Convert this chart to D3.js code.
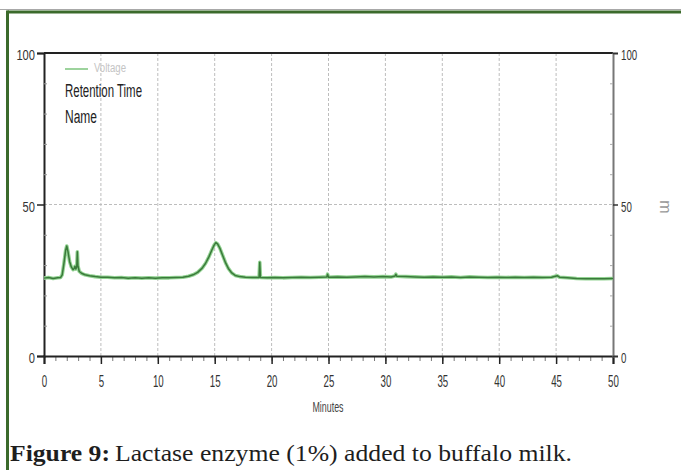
<!DOCTYPE html>
<html>
<head>
<meta charset="utf-8">
<script src="https://cdn.jsdelivr.net/npm/d3@7"></script>
<style>
  html, body { margin: 0; padding: 0; background: #fff; }
  svg { display: block; }
  .cond { font-family: "Liberation Sans Narrow", "Arial Narrow", "Liberation Sans", sans-serif; fill: #333; }
</style>
</head>
<body>
<svg id="chart" width="681" height="470"></svg>
<script>
// Retention time (minutes) and detector signal of the chromatogram trace
const minutes = [
  0, 0.4, 0.8, 1.2, 1.45, 1.6, 1.75, 1.9, 2.0, 2.1, 2.25, 2.4, 2.55, 2.65, 2.72, 2.8, 2.88, 2.93, 2.98,
  3.1, 3.3, 3.6, 4.0, 4.5, 5.0, 5.6, 6.2, 6.8, 7.4, 8.0, 8.6, 9.2, 9.8, 10.4, 11.0, 11.6, 12.2, 12.7,
  13.1, 13.5, 13.9, 14.2, 14.5, 14.75, 14.95, 15.1, 15.25, 15.45, 15.7, 15.95, 16.2, 16.5, 16.8, 17.2,
  17.7, 18.3, 18.9, 18.96, 19.02, 19.6, 20.3, 21.0, 21.8, 22.6, 23.4, 24.2, 24.85, 24.92, 25.0, 25.8,
  26.6, 27.4, 28.2, 29.0, 29.8, 30.5, 30.85, 30.92, 31.0, 31.8, 32.6, 33.4, 34.2, 35.0, 35.8, 36.6,
  37.4, 38.2, 39.0, 39.8, 40.6, 41.4, 42.2, 43.0, 43.8, 44.6, 45.1, 45.3, 46.0, 46.8, 47.6, 48.4, 49.2, 50
];
const signal = [
  25.7, 25.9, 25.6, 25.8, 25.9, 26.8, 30.5, 34.8, 36.3, 34.6, 31.2, 29.4, 28.5, 28.9, 29.6, 28.7, 29.5, 34.4, 29.8,
  27.9, 27.3, 26.8, 26.5, 26.2, 26.0, 26.0, 25.8, 25.9, 25.7, 25.8, 25.7, 25.8, 25.7, 25.8, 25.8, 25.9, 26.0, 26.3,
  26.8, 27.6, 29.0, 30.6, 32.8, 35.0, 36.6, 37.4, 37.0, 35.6, 33.2, 30.8, 28.9, 27.4, 26.6, 26.2,
  26.0, 25.9, 25.9, 30.9, 25.9, 25.8, 25.9, 25.8, 25.9, 26.0, 25.9, 26.0, 26.1, 27.0, 26.0, 26.1,
  26.0, 26.1, 26.2, 26.1, 26.2, 26.1, 26.4, 27.0, 26.3, 26.2, 26.1, 26.0, 26.1, 26.0, 26.1, 25.9,
  26.1, 26.0, 25.9, 26.0, 25.9, 26.0, 25.9, 26.0, 25.9, 26.0, 26.5, 26.0, 25.8, 25.6, 25.5, 25.5, 25.5, 25.6
];

const xMajorTicks = [0, 5, 10, 15, 20, 25, 30, 35, 40, 45, 50];
const yMajorTicks = [0, 50, 100];
const yMinorTicks = [10, 20, 30, 40, 60, 70, 80, 90];
const legendLines = ["Retention Time", "Name"];
const seriesName = "Voltage";
const xTitle = "Minutes";
const yRightTitle = "m";
const captionBold = "Figure 9:";
const captionText = "Lactase enzyme (1%) added to buffalo milk.";

const svg = d3.select("#chart");
const W = 681, H = 470;
const margin = { left: 44, right: 68, top: 53, bottom: 114 };
const plotW = W - margin.left - margin.right;
const plotH = H - margin.top - margin.bottom;

// Condensed instrument-style lettering: squeeze each label to a per-glyph width
function condense(sel, perChar) {
  sel.attr("textLength", function () { return this.textContent.length * perChar; })
     .attr("lengthAdjust", "spacingAndGlyphs");
}

// Figure frame: thin rule above, green border top and left
svg.append("line").attr("x1", 0).attr("x2", W).attr("y1", 9.5).attr("y2", 9.5)
  .attr("stroke", "#a8a8a8").attr("stroke-width", 1);
svg.append("line").attr("x1", 7.5).attr("x2", W).attr("y1", 12).attr("y2", 12)
  .attr("stroke", "#3b6a2b").attr("stroke-width", 3);
svg.append("line").attr("x1", 7.5).attr("x2", 7.5).attr("y1", 10.5).attr("y2", H)
  .attr("stroke", "#3b6a2b").attr("stroke-width", 3);

const x = d3.scaleLinear().domain([0, 50]).range([0, plotW]);
const y = d3.scaleLinear().domain([0, 100]).range([plotH, 0]);

const g = svg.append("g").attr("transform", `translate(${margin.left},${margin.top})`);

// Dotted grid
g.append("g").selectAll("line").data(xMajorTicks.filter(d => d > 0 && d < 50)).join("line")
  .attr("x1", d => x(d)).attr("x2", d => x(d)).attr("y1", 0).attr("y2", plotH)
  .attr("stroke", "#bdbdbd").attr("stroke-width", 1).attr("stroke-dasharray", "3,2");
g.append("line").attr("x1", 0).attr("x2", plotW).attr("y1", y(50)).attr("y2", y(50))
  .attr("stroke", "#bdbdbd").attr("stroke-width", 1).attr("stroke-dasharray", "3,2");

// Top frame line
g.append("line").attr("x1", 0).attr("x2", plotW).attr("y1", 0).attr("y2", 0)
  .attr("stroke", "#222").attr("stroke-width", 2);

// Bottom axis: minor ticks every minute, major every 5
const xMinor = d3.axisBottom(x).tickValues(d3.range(0, 51, 1)).tickSize(5).tickFormat("");
const gxm = g.append("g").attr("transform", `translate(0,${plotH})`).call(xMinor);
gxm.select(".domain").remove();
gxm.selectAll(".tick line").attr("stroke", "#777");

const xAxis = d3.axisBottom(x).tickValues(xMajorTicks).tickSize(8).tickFormat(d3.format("d"));
const gx = g.append("g").attr("transform", `translate(0,${plotH})`).call(xAxis);
gx.select(".domain").attr("stroke", "#222").attr("stroke-width", 2);
gx.selectAll(".tick line").attr("stroke", "#222").attr("stroke-width", 1.5);
gx.selectAll(".tick text").attr("class", "cond").attr("y", 31).attr("dy", null)
  .style("font-size", "16px").call(condense, 5.4);

// Left axis
const yAxisL = d3.axisLeft(y).tickValues(yMajorTicks).tickSize(7).tickPadding(2).tickFormat(d3.format("d"));
const gyl = g.append("g").call(yAxisL);
gyl.select(".domain").attr("stroke", "#222").attr("stroke-width", 2);
gyl.selectAll(".tick line").attr("stroke", "#222").attr("stroke-width", 1.5);
gyl.selectAll(".tick text").attr("class", "cond").attr("dy", "0.45em")
  .style("font-size", "15px").call(condense, 6.2);
const yMinL = d3.axisRight(y).tickValues(yMinorTicks).tickSize(3).tickFormat("");
const gyml = g.append("g").call(yMinL);
gyml.select(".domain").remove();
gyml.selectAll(".tick line").attr("stroke", "#999");

// Right axis
const yAxisR = d3.axisRight(y).tickValues(yMajorTicks).tickSize(5).tickPadding(3).tickFormat(d3.format("d"));
const gyr = g.append("g").attr("transform", `translate(${plotW},0)`).call(yAxisR);
gyr.select(".domain").attr("stroke", "#777").attr("stroke-width", 2);
gyr.selectAll(".tick line").attr("stroke", "#333").attr("stroke-width", 1.5);
gyr.selectAll(".tick text").attr("class", "cond").attr("dy", "0.45em")
  .style("font-size", "15px").call(condense, 5.4);
const yMinR = d3.axisLeft(y).tickValues(yMinorTicks).tickSize(3).tickFormat("");
const gymr = g.append("g").attr("transform", `translate(${plotW},0)`).call(yMinR);
gymr.select(".domain").remove();
gymr.selectAll(".tick line").attr("stroke", "#aaa");

// Trace
const pts = minutes.map((m, i) => [m, signal[i]]);
const line = d3.line().x(d => x(d[0])).y(d => y(d[1]));
g.append("path").datum(pts).attr("d", line).attr("fill", "none")
  .attr("stroke", "#93d393").attr("stroke-width", 3.6).attr("stroke-linejoin", "round");
g.append("path").datum(pts).attr("d", line).attr("fill", "none")
  .attr("stroke", "#3a7a3a").attr("stroke-width", 1.5).attr("stroke-linejoin", "round");

// Legend
g.append("line").attr("x1", 21).attr("x2", 44).attr("y1", 16).attr("y2", 16)
  .attr("stroke", "#7cc47c").attr("stroke-width", 1.5);
g.append("text").attr("x", 50).attr("y", 19).text(seriesName)
  .attr("class", "cond").style("font-size", "12px").style("fill", "#c4c4c4")
  .attr("textLength", 32).attr("lengthAdjust", "spacingAndGlyphs");
g.selectAll(".legend-line").data(legendLines).join("text")
  .attr("class", "cond legend-line")
  .attr("x", 21).attr("y", (d, i) => 44 + i * 26)
  .style("font-size", "18px").style("fill", "#222").text(d => d)
  .attr("textLength", (d, i) => [77, 32][i]).attr("lengthAdjust", "spacingAndGlyphs");

// Axis titles
g.append("text").attr("x", 284).attr("y", plotH + 56).attr("text-anchor", "middle")
  .attr("class", "cond").style("font-size", "14px").style("fill", "#444").text(xTitle)
  .attr("textLength", 31).attr("lengthAdjust", "spacingAndGlyphs");
svg.append("text").attr("transform", `translate(660,207) rotate(90)`).attr("text-anchor", "middle")
  .attr("class", "cond").style("font-size", "16px").style("fill", "#999").text(yRightTitle);

// Caption
const capFont = "'Liberation Serif', 'DejaVu Serif', serif";
svg.append("text").attr("x", 10).attr("y", 461)
  .style("font-family", capFont).style("font-size", "23px").style("font-weight", "bold").style("fill", "#1e1e1e")
  .attr("textLength", 100).attr("lengthAdjust", "spacingAndGlyphs").text(captionBold);
svg.append("text").attr("x", 115).attr("y", 461)
  .style("font-family", capFont).style("font-size", "23px").style("fill", "#1e1e1e")
  .attr("textLength", 457).attr("lengthAdjust", "spacingAndGlyphs").text(captionText);
</script>
</body>
</html>
